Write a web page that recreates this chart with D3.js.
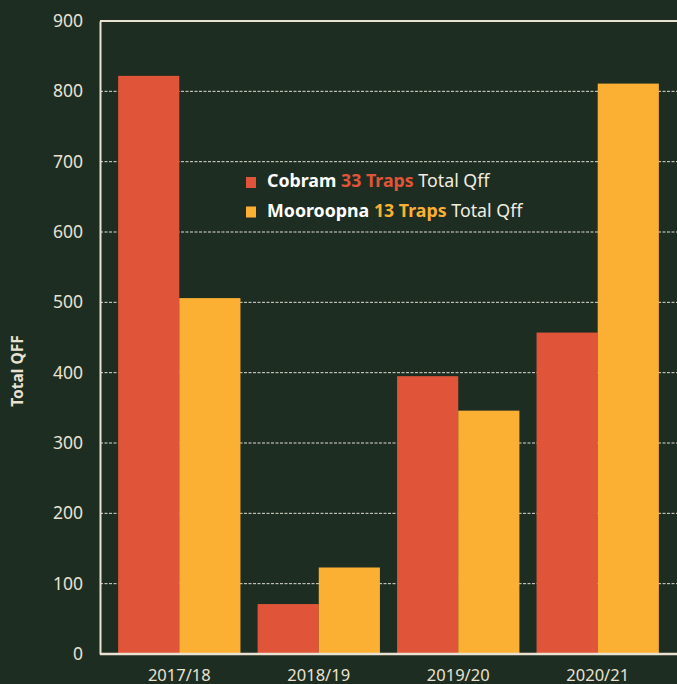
<!DOCTYPE html>
<html><head><meta charset="utf-8">
<script src="https://cdn.jsdelivr.net/npm/d3@7"></script>
<style>
html,body{margin:0;padding:0;background:#1e2d21;}
svg{display:block;}
</style></head>
<body>
<script>
const categories = ["2017/18","2018/19","2019/20","2020/21"];
const seriesNames = ["Cobram","Mooroopna"];
const cobram = [822, 71, 395, 457];
const mooroopna = [506, 123, 346, 811];
const yTicks = [0,100,200,300,400,500,600,700,800,900];

(function(){
const W = 677, H = 684;
const bg = "#1e2d21", red = "#e0553a", orange = "#fbb034", ink = "#e9e2d2";
const svg = d3.select("body").append("svg").attr("width", W).attr("height", H).style("background", bg);
svg.append("rect").attr("width", W).attr("height", H).attr("fill", bg);

const mLeft = 100, mRight = 677, mTop = 21, mBottom = 654;
const x0 = d3.scaleBand().domain(categories).range([mLeft, mRight]).paddingInner(0.123).paddingOuter(0.13);
const x1 = d3.scaleBand().domain(seriesNames).range([0, x0.bandwidth()]);
const y = d3.scaleLinear().domain([0, 900]).range([mBottom, mTop]);
const font = "'Noto Sans', 'Open Sans', sans-serif";

// gridlines
svg.append("g").selectAll("line").data(yTicks.filter(t => t > 0 && t < 900)).join("line")
  .attr("x1", mLeft).attr("x2", mRight).attr("y1", d => y(d)).attr("y2", d => y(d))
  .attr("stroke", "#f4efe4").attr("stroke-opacity", 0.9).attr("stroke-width", 1)
  .attr("stroke-dasharray", "3,1.5");

// bars
const rows = categories.map((c, i) => ({cat: c, vals: [{s: "Cobram", v: cobram[i]}, {s: "Mooroopna", v: mooroopna[i]}]}));
const color = d3.scaleOrdinal().domain(seriesNames).range([red, orange]);
svg.append("g").selectAll("g").data(rows).join("g")
  .attr("transform", d => `translate(${x0(d.cat)},0)`)
  .selectAll("rect").data(d => d.vals).join("rect")
  .attr("x", d => x1(d.s)).attr("width", x1.bandwidth())
  .attr("y", d => y(d.v)).attr("height", d => y(0) - y(d.v))
  .attr("fill", d => color(d.s));

// y axis
const yAxis = d3.axisLeft(y).tickValues(yTicks).tickSize(0).tickPadding(17);
const gy = svg.append("g").attr("transform", `translate(${mLeft},0)`).call(yAxis);
gy.select(".domain").attr("stroke", ink).attr("stroke-width", 2);
gy.selectAll("text").attr("fill", ink).style("font-family", font).style("font-size", "17.5px");

// top border
svg.append("line").attr("x1", mLeft).attr("x2", mRight).attr("y1", y(900)).attr("y2", y(900))
  .attr("stroke", ink).attr("stroke-width", 2);

// x axis
const xAxis = d3.axisBottom(x0).tickSize(0).tickPadding(15);
const gx = svg.append("g").attr("transform", `translate(0,${mBottom})`).call(xAxis);
gx.select(".domain").attr("stroke", ink).attr("stroke-width", 2.5).attr("d", `M${mLeft},0H${mRight}`);
gx.selectAll("text").attr("fill", ink).style("font-family", font).style("font-size", "16.5px");

// y label
svg.append("text").attr("transform", `translate(23,371) rotate(-90)`)
  .attr("text-anchor", "middle").attr("fill", ink)
  .style("font-family", font).style("font-size", "15.5px").style("font-weight", "bold")
  .text("Total QFF");

// legend
const legend = [
  {name: "Cobram", traps: "33 Traps", c: red},
  {name: "Mooroopna", traps: "13 Traps", c: orange}
];
const lg = svg.append("g").selectAll("g").data(legend).join("g")
  .attr("transform", (d, i) => `translate(246,${177 + i * 29.5})`);
lg.append("rect").attr("width", 10).attr("height", 11).attr("fill", d => d.c);
const t = lg.append("text").attr("x", 21).attr("y", 10)
  .style("font-family", font).style("font-size", "17.8px");
t.append("tspan").attr("fill", "#ffffff").style("font-weight", "bold").text(d => d.name + " ");
t.append("tspan").attr("fill", d => d.c).style("font-weight", "bold").text(d => d.traps + " ");
t.append("tspan").attr("fill", "#f2ece0").text("Total Qff");
})();
</script>
</body></html>
